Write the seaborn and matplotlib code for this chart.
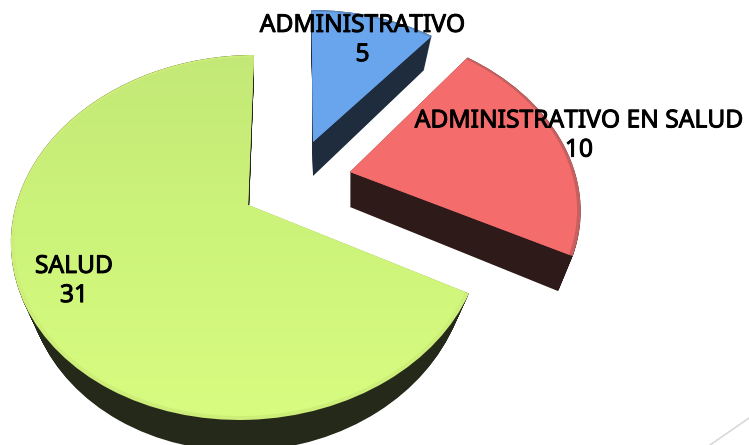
import numpy as np
import matplotlib
matplotlib.use('Agg')
import matplotlib.pyplot as plt
import matplotlib.patheffects as pe
from matplotlib.colors import LinearSegmentedColormap
from matplotlib.transforms import Transform
import seaborn as sns

# data
categories = ['ADMINISTRATIVO', 'ADMINISTRATIVO EN SALUD', 'SALUD']
values = [5, 10, 31]

top_colors = sns.color_palette(['#69a5ec', '#f56c6c', '#cdf47a'])
rim_colors = sns.color_palette(['#5b8ecb', '#c96060', '#cdee78'])
side_colors = sns.color_palette(['#1e2c3e', '#2e1a18', '#25291a'])


# plano del pastel -> pixeles, con perspectiva
class Tilt(Transform):
    input_dims = 2
    output_dims = 2
    is_separable = False
    has_inverse = False

    def __init__(self, cx, cy, scale, xscale, shear, drop=0.0, shrink=0.0):
        super().__init__()
        self.cx, self.cy, self.scale, self.xscale, self.shear = cx, cy, scale, xscale, shear
        self.drop, self.shrink = drop, shrink

    def transform_non_affine(self, values):
        u, v = np.asarray(values).T
        w = self.scale / (1 + 0.178 * v)
        x = self.cx + (232 * self.xscale * u + self.shear * v) * w * (1 - self.shrink)
        y = self.cy - 176.7 * v * w + self.drop
        return np.column_stack([x, y])


# centro x, centro y, escala, escala x, sesgo, grosor
slices = [(313, 142, 0.88, 1.06, -2, 34),
          (350, 172, 0.95, 1.02, -11, 35),
          (248, 205, 1.0, 1.0, 7, 31)]

sns.set_theme(style='white')
plt.rcParams['font.family'] = ['Noto Sans', 'DejaVu Sans']

fig = plt.figure(figsize=(7.49, 4.45), dpi=100)
ax = fig.add_axes([0, 0, 1, 1])


def draw_layer(colors, radius=1.0, t=0.0):
    wedges, _ = ax.pie(values, colors=colors, startangle=90, counterclock=False,
                       radius=radius, wedgeprops=dict(linewidth=0))
    for wedge, (cx, cy, scale, xscale, shear, depth) in zip(wedges, slices):
        wedge.set_transform(Tilt(cx, cy, scale, xscale, shear, depth * t, 0.065 * t) + ax.transData)
    return wedges


# paredes laterales
for t in np.linspace(1, 0, 36):
    draw_layer(side_colors, t=t)

# cara superior con borde
draw_layer(rim_colors, radius=1.0)
top = draw_layer(top_colors, radius=0.985)

# degradado de la cara verde
green = LinearSegmentedColormap.from_list('green', ['#c3e877', '#cdf47a', '#d8fc80'])
im = ax.imshow(np.linspace(0, 1, 256)[:, None], cmap=green, aspect='auto',
               extent=(0, 749, 425, 50), zorder=3)
im.set_clip_path(top[2])

# linea decorativa de la diapositiva
ax.plot([710, 749], [445, 418], color='#d9d9d9', lw=1.2, zorder=1)

ax.set_aspect('auto')
ax.set_xlim(0, 749)
ax.set_ylim(445, 0)
ax.axis('off')

# la fuente no trae negrita: se engrosa con un trazo fino
label_style = dict(ha='center', va='center', fontsize=17.7, color='black', linespacing=1.22, zorder=5,
                   path_effects=[pe.withStroke(linewidth=0.7, foreground='black')])
ax.text(362.5, 40, f'{categories[0]}\n{values[0]}', **label_style)
ax.text(579, 135.5, f'{categories[1]}\n{values[1]}', **label_style)
ax.text(74, 281, f'{categories[2]}\n{values[2]}', **label_style)

fig.savefig('out.png', dpi=100)
